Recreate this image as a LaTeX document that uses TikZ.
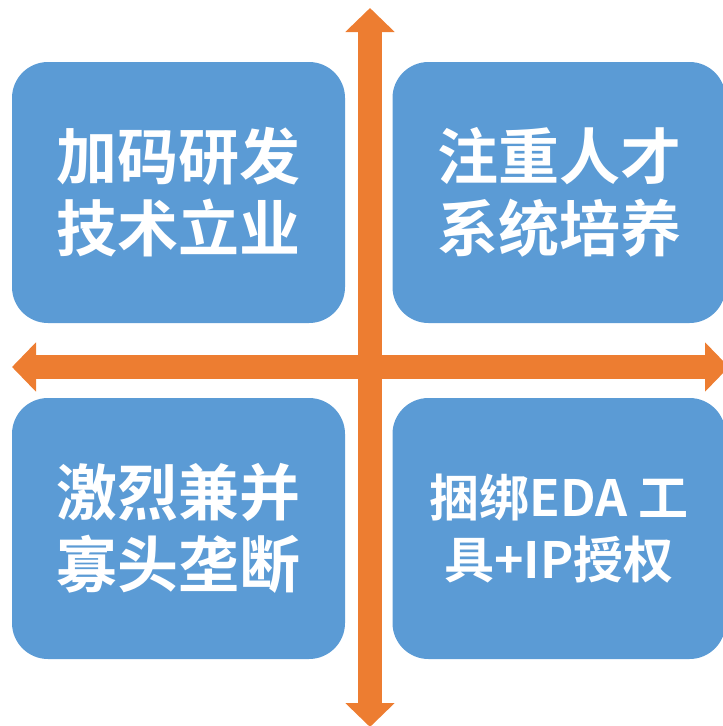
\documentclass[tikz,border=0pt]{standalone}
\usepackage{fontspec}
\newfontfamily\cjk{Noto Sans CJK SC}[BoldFont={Noto Sans CJK SC Bold}]
\usetikzlibrary{arrows.meta}
\definecolor{quadblue}{HTML}{5B9BD5}
\definecolor{axisorange}{HTML}{ED7D31}

\begin{document}
\begin{tikzpicture}[x=1pt,y=-1pt,
  quad/.style={fill=quadblue,rounded corners=36pt,minimum width=333pt,
    minimum height=261pt,text=white,align=center,
    font=\cjk\bfseries\fontsize{61}{72}\selectfont},
  axis/.style={draw=axisorange,line width=24pt,
    {Triangle[width=48pt,length=24pt]}-{Triangle[width=48pt,length=24pt]}}]
  \path[use as bounding box] (0,0) rectangle (723,726);
  \clip (0,0) rectangle (723,726);

  % Ends of the two axes.
  \coordinate (N) at (370,8);
  \coordinate (S) at (370,727);
  \coordinate (W) at (12,367);
  \coordinate (E) at (729,367);

  % Four quadrants.
  \node[quad] (rd) at (178.5,192.5) {加码研发\\技术立业};
  \node[quad] (talent) at (559,192.5) {注重人才\\系统培养};
  \node[quad] (merge) at (178.5,528.5) {激烈兼并\\寡头垄断};
  \node[quad,font=\cjk\bfseries\fontsize{50}{62}\selectfont] (eda) at (559,528.5)
    {捆绑EDA 工\\具+IP授权};

  % Crossing double arrows.
  \draw[axis] (N) -- (S);
  \draw[axis] (W) -- (E);
\end{tikzpicture}
\end{document}
